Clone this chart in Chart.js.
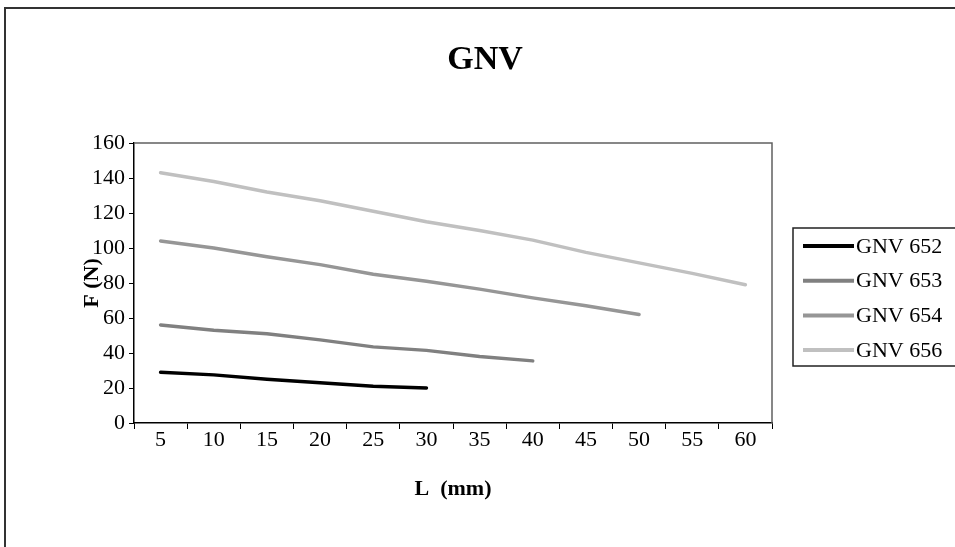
<!DOCTYPE html>
<html>
<head>
<meta charset="utf-8">
<title>GNV</title>
<script src="https://cdn.jsdelivr.net/npm/chart.js@4"></script>
<style>
    html, body { margin: 0; padding: 0; background: #fff; }
    #wrap { width: 955px; height: 547px; position: relative; }
</style>
</head>
<body>
<div id="wrap"><canvas id="gnvChart"></canvas></div>
<script>
// lengths L (mm) on the category axis
const lengths = ["5", "10", "15", "20", "25", "30", "35", "40", "45", "50", "55", "60"];

// force F (N) per length
const gnv652 = [29, 27.5, 25, 23, 21, 20];
const gnv653 = [56, 53, 51, 47.5, 43.5, 41.5, 38, 35.5];
const gnv654 = [104, 100, 95, 90.5, 85, 81, 76.5, 71.5, 67, 62];
const gnv656 = [143, 138, 132, 127, 121, 115, 110, 104.5, 97.5, 91.5, 85.5, 79];

const seriesNames = ["GNV 652", "GNV 653", "GNV 654", "GNV 656"];
const seriesColors = ["#000000", "#808080", "#969696", "#c0c0c0"];
const yTicks = [0, 20, 40, 60, 80, 100, 120, 140, 160];

const serif = "'Liberation Serif', 'Times New Roman', serif";

/* ------------------------------
   Frame, title, plot border and legend box
--------------------------------*/
const excelFrame = {
    id: "excelFrame",
    beforeDraw(chart) {
        const c = chart.ctx;
        c.save();
        c.fillStyle = "#fff";
        c.fillRect(0, 0, chart.width, chart.height);
        c.strokeStyle = "#333";
        c.lineWidth = 2;
        c.strokeRect(5, 8, chart.width + 20, chart.height + 20);
        c.restore();
    },
    afterDraw(chart) {
        const c = chart.ctx;
        const a = chart.chartArea;
        c.save();

        // top and right edge of plot area
        c.strokeStyle = "#606060";
        c.lineWidth = 1.5;
        c.beginPath();
        c.moveTo(a.left, a.top);
        c.lineTo(a.right, a.top);
        c.lineTo(a.right, a.bottom);
        c.stroke();

        // title
        c.fillStyle = "#000";
        c.font = "bold 34px " + serif;
        c.textAlign = "center";
        c.textBaseline = "middle";
        c.fillText("GNV", 485, 60);

        // legend
        const box = { left: 793, top: 228, bottom: 366 };
        c.strokeStyle = "#222";
        c.lineWidth = 1.5;
        c.strokeRect(box.left, box.top, chart.width - box.left + 10, box.bottom - box.top);

        c.font = "22px " + serif;
        c.textAlign = "left";
        chart.data.datasets.forEach((ds, i) => {
            const y = 246 + i * 34.7;
            c.strokeStyle = ds.borderColor;
            c.lineWidth = 4;
            c.lineCap = "butt";
            c.beginPath();
            c.moveTo(803, y);
            c.lineTo(854, y);
            c.stroke();
            c.fillStyle = "#000";
            c.fillText(ds.label, 856, y + 1);
        });

        c.restore();
    }
};

const allSeries = [gnv652, gnv653, gnv654, gnv656];

new Chart(document.getElementById("gnvChart"), {
    type: "line",
    data: {
        labels: lengths,
        datasets: allSeries.map((values, i) => ({
            label: seriesNames[i],
            data: values,
            borderColor: seriesColors[i],
            backgroundColor: seriesColors[i],
            borderWidth: 3.5,
            borderCapStyle: "round",
            borderJoinStyle: "round",
            pointRadius: 0,
            tension: 0
        }))
    },
    plugins: [excelFrame],
    options: {
        responsive: true,
        maintainAspectRatio: false,
        animation: false,
        layout: {
            padding: { top: 143, left: 5, right: 183, bottom: 0 }
        },
        plugins: {
            legend: { display: false },
            title: { display: false },
            tooltip: { enabled: false }
        },
        scales: {
            x: {
                offset: true,
                afterFit: (s) => { s.height = 124; },
                grid: {
                    offset: true,
                    drawOnChartArea: false,
                    drawTicks: true,
                    tickLength: 6,
                    color: "#000",
                    lineWidth: 1
                },
                border: { color: "#000", width: 1.5 },
                ticks: {
                    color: "#000",
                    padding: 0,
                    maxRotation: 0,
                    font: { family: serif, size: 22, lineHeight: 1 }
                },
                title: {
                    display: true,
                    text: "L  (mm)",
                    color: "#000",
                    padding: { top: 0, bottom: 44 },
                    font: { family: serif, size: 22, weight: "bold" }
                }
            },
            y: {
                min: 0,
                max: 160,
                afterFit: (s) => { s.width = 129; },
                afterBuildTicks: (s) => { s.ticks = yTicks.map(v => ({ value: v })); },
                grid: {
                    drawOnChartArea: false,
                    drawTicks: true,
                    tickLength: 5,
                    color: "#000",
                    lineWidth: 1
                },
                border: { color: "#000", width: 1.5 },
                ticks: {
                    color: "#000",
                    padding: 4,
                    font: { family: serif, size: 22 }
                },
                title: {
                    display: true,
                    text: "F (N)",
                    color: "#000",
                    padding: { top: 74, bottom: 0 },
                    font: { family: serif, size: 22, weight: "bold" }
                }
            }
        }
    }
});
</script>
</body>
</html>
